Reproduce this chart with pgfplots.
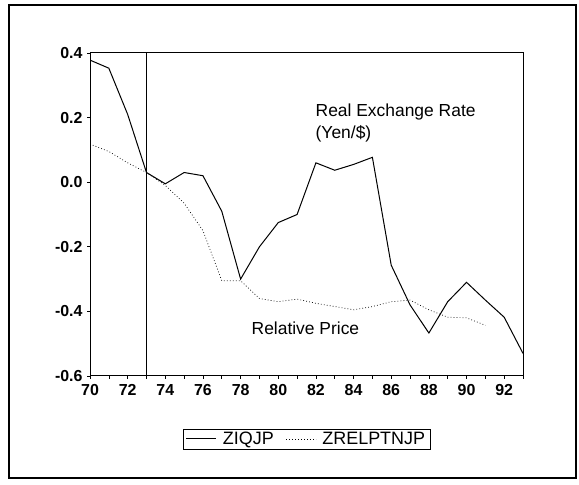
\documentclass[border=0pt]{standalone}
\usepackage{pgfplots}
\pgfplotsset{compat=1.18}
\usepackage{fontspec}
\setmainfont{Liberation Sans}
\begin{document}
\begin{tikzpicture}[x=1bp,y=1bp]
\useasboundingbox (0,0) rectangle (579,485);
\draw[line width=1.2bp] (9,7) rectangle (576,480);
\begin{axis}[
  at={(90bp,109bp)}, anchor=south west,
  scale only axis, width=433bp, height=323bp,
  xmin=70, xmax=93, ymin=-0.6, ymax=0.4,
  xtick={70,72,...,92}, minor xtick={71,73,...,93},
  ytick={-0.6,-0.4,-0.2,0,0.2,0.4},
  yticklabel style={xshift=-1bp,/pgf/number format/.cd,fixed,fixed zerofill,precision=1},
  xticklabel style={yshift=-2bp},
  /pgf/number format/assume math mode=true,
  tick align=outside, tick pos=left,
  major tick length=3bp, minor tick length=3bp,
  every tick/.style={black, line width=0.6bp},
  tick label style={font=\fontsize{16}{16}\selectfont\bfseries},
  axis line style={line width=1bp},
  legend style={at={(0.5,-0.195)}, anchor=center, legend columns=2,
    draw=black, font=\fontsize{18}{18}\selectfont, inner xsep=3bp, inner ysep=1bp,
    /tikz/every odd column/.append style={column sep=4bp},
    /tikz/every even column/.append style={column sep=10bp}},
  legend image code/.code={\draw[#1] (0bp,0bp) -- (30bp,0bp);},
]
\addplot[black, line width=1bp] coordinates {
(70,0.378)(71,0.353)(72,0.21)(73,0.03)(74,-0.005)(75,0.03)(76,0.02)(77,-0.09)
(78,-0.30)(79,-0.20)(80,-0.125)(81,-0.10)(82,0.06)(83,0.037)(84,0.055)(85,0.077)
(86,-0.257)(87,-0.38)(88,-0.467)(89,-0.37)(90,-0.31)(91,-0.365)(92,-0.418)(93,-0.53)};
\addlegendentry{ZIQJP}
\addplot[black, line width=0.7bp, dash pattern=on 0.8bp off 2.2bp] coordinates {
(70,0.118)(71,0.095)(72,0.06)(73,0.03)(74,-0.01)(75,-0.065)(76,-0.15)(77,-0.305)
(78,-0.305)(79,-0.36)(80,-0.37)(81,-0.362)(82,-0.375)(83,-0.385)(84,-0.395)(85,-0.385)
(86,-0.37)(87,-0.365)(88,-0.395)(89,-0.418)(90,-0.42)(91,-0.443)};
\addlegendentry{ZRELPTNJP}
\addplot[black, line width=0.8bp, forget plot] coordinates {(73,-0.6)(73,0.4)};
\node[anchor=west, align=left, font=\fontsize{17.5}{22}\selectfont] at (axis cs:81.8,0.182) {Real Exchange Rate\\(Yen/\$)};
\node[anchor=west, font=\fontsize{17.5}{17.5}\selectfont] at (axis cs:78.4,-0.452) {Relative Price};
\end{axis}
\end{tikzpicture}
\end{document}
